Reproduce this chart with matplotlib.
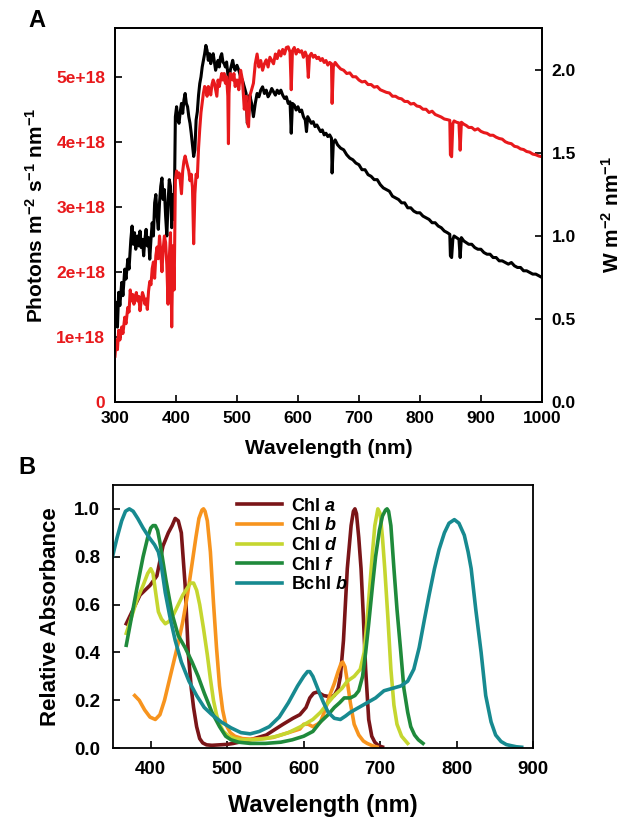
import numpy as np
import matplotlib.pyplot as plt

plt.rcParams['font.family'] = ['Liberation Sans', 'DejaVu Sans']
plt.rcParams['font.weight'] = 'bold'
plt.rcParams['mathtext.fontset'] = 'custom'
plt.rcParams['mathtext.rm'] = 'Liberation Sans:bold'
plt.rcParams['mathtext.it'] = 'Liberation Sans:bold:italic'
plt.rcParams['mathtext.bf'] = 'Liberation Sans:bold'

# Panel A: solar spectrum, energy (W m-2 nm-1), right axis, black
energy_pts = [
    (300, 0.50), (302, 0.60), (304, 0.45), (306, 0.66), (308, 0.58), (311, 0.72),
    (313, 0.64), (316, 0.80), (318, 0.74), (321, 0.86), (323, 0.80), (326, 0.98),
    (328, 1.06), (330, 0.95), (332, 1.02), (334, 0.92), (337, 1.00), (339, 0.94),
    (341, 1.03), (343, 0.93), (345, 0.98), (347, 0.88), (349, 0.98), (351, 1.04),
    (353, 0.94), (355, 0.99), (357, 0.86), (359, 0.98), (361, 1.08), (363, 1.00),
    (365, 1.20), (367, 1.25), (369, 1.12), (371, 1.04), (373, 1.20), (375, 1.30),
    (377, 1.35), (379, 1.22), (381, 1.28), (383, 1.12), (385, 1.00), (387, 1.20),
    (389, 1.34), (391, 1.30), (393, 1.05), (395, 1.25), (397, 1.10), (399, 1.72),
    (401, 1.78), (403, 1.70), (405, 1.68), (407, 1.75), (409, 1.80), (411, 1.74),
    (413, 1.82), (415, 1.86), (417, 1.80), (419, 1.78), (421, 1.72), (423, 1.68),
    (425, 1.62), (427, 1.55), (429, 1.48), (431, 1.52), (433, 1.70), (435, 1.75),
    (437, 1.85), (439, 1.92), (441, 1.96), (443, 2.02), (445, 2.06), (447, 2.10),
    (449, 2.15), (451, 2.12), (453, 2.06), (455, 2.10), (457, 2.04), (459, 2.08),
    (461, 2.10), (463, 2.05), (465, 2.00), (467, 2.03), (469, 2.06), (471, 2.02),
    (473, 2.08), (475, 2.10), (477, 2.05), (479, 2.04), (481, 2.02), (483, 2.05),
    (485, 1.98), (487, 1.92), (489, 2.00), (491, 2.03), (493, 2.06), (495, 2.02),
    (497, 2.00), (500, 2.03), (503, 2.00), (506, 1.96), (509, 1.94), (512, 1.90),
    (515, 1.86), (517, 1.68), (519, 1.72), (521, 1.85), (524, 1.80), (527, 1.72),
    (530, 1.80), (533, 1.86), (536, 1.84), (539, 1.88), (542, 1.90), (545, 1.86),
    (548, 1.88), (551, 1.84), (554, 1.86), (557, 1.89), (560, 1.87), (563, 1.85),
    (566, 1.88), (569, 1.86), (572, 1.88), (575, 1.85), (578, 1.83), (581, 1.84),
    (584, 1.80), (587, 1.81), (589, 1.62), (591, 1.80), (594, 1.79), (597, 1.76),
    (600, 1.78), (603, 1.75), (606, 1.76), (609, 1.72), (612, 1.70), (614, 1.63),
    (616, 1.72), (619, 1.70), (622, 1.68), (625, 1.69), (628, 1.66), (631, 1.67),
    (634, 1.65), (637, 1.63), (640, 1.64), (643, 1.61), (646, 1.62), (649, 1.60),
    (652, 1.61), (655, 1.59), (656, 1.38), (658, 1.56), (661, 1.58), (665, 1.55),
    (670, 1.53), (675, 1.52), (680, 1.49), (685, 1.47), (690, 1.46), (695, 1.44),
    (700, 1.43), (705, 1.40), (710, 1.40), (715, 1.37), (720, 1.36), (725, 1.34),
    (730, 1.34), (735, 1.31), (740, 1.29), (745, 1.28), (750, 1.27), (755, 1.24),
    (760, 1.23), (765, 1.22), (770, 1.20), (775, 1.20), (780, 1.17), (785, 1.17),
    (790, 1.15), (795, 1.14), (800, 1.14), (805, 1.12), (810, 1.11), (815, 1.10),
    (820, 1.08), (825, 1.08), (830, 1.06), (835, 1.05), (840, 1.03), (845, 1.02),
    (849, 1.01), (850, 0.88), (852, 0.87), (854, 0.98), (856, 1.00), (860, 0.99),
    (864, 0.98), (866, 0.87), (868, 0.99), (872, 0.97), (876, 0.96), (880, 0.95),
    (885, 0.95), (890, 0.93), (895, 0.92), (900, 0.92), (905, 0.90), (910, 0.89),
    (915, 0.89), (920, 0.87), (925, 0.87), (930, 0.85), (935, 0.85), (940, 0.84),
    (945, 0.83), (950, 0.84), (955, 0.82), (960, 0.81), (965, 0.81), (970, 0.79),
    (975, 0.79), (980, 0.78), (985, 0.77), (990, 0.77), (995, 0.76), (1000, 0.75),
]

# Panel A: photon flux (units of 1e18 photons m-2 s-1 nm-1), left axis, red
photon_pts = [
    (300, 0.70), (302, 0.95), (304, 0.80), (306, 1.10), (308, 0.95), (311, 1.15),
    (313, 1.05), (316, 1.30), (318, 1.20), (321, 1.45), (323, 1.38), (325, 1.72),
    (327, 1.55), (329, 1.65), (331, 1.50), (333, 1.60), (335, 1.68), (337, 1.55),
    (339, 1.62), (341, 1.40), (343, 1.55), (345, 1.68), (347, 1.62), (349, 1.50),
    (351, 1.58), (353, 1.42), (355, 1.70), (357, 1.85), (359, 1.80), (361, 2.05),
    (363, 2.15), (365, 1.90), (367, 2.25), (369, 2.38), (371, 2.20), (373, 2.55),
    (375, 2.30), (377, 2.00), (379, 2.35), (381, 2.55), (383, 2.45), (385, 2.10),
    (387, 1.50), (389, 2.20), (391, 2.60), (393, 1.15), (395, 2.40), (397, 1.72),
    (399, 3.40), (401, 3.55), (403, 3.45), (405, 3.52), (407, 3.40), (409, 3.20),
    (411, 3.55), (413, 3.70), (415, 3.78), (417, 3.70), (419, 3.62), (421, 3.55),
    (423, 3.40), (425, 3.50), (427, 3.30), (429, 2.43), (431, 3.20), (433, 3.50),
    (435, 3.45), (437, 3.90), (439, 4.20), (441, 4.45), (443, 4.60), (445, 4.75),
    (447, 4.85), (449, 4.82), (451, 4.70), (453, 4.85), (455, 4.80), (457, 4.72),
    (459, 4.88), (461, 4.95), (463, 4.90), (465, 4.80), (467, 4.70), (469, 4.95),
    (471, 4.85), (473, 4.95), (475, 5.05), (477, 4.95), (479, 5.05), (481, 4.90),
    (483, 5.00), (485, 4.70), (486, 3.97), (487, 4.75), (489, 5.05), (491, 5.00),
    (493, 4.95), (495, 5.05), (497, 4.85), (500, 4.95), (503, 4.80), (506, 5.10),
    (509, 4.95), (512, 4.50), (515, 4.70), (517, 4.30), (519, 4.23), (521, 4.70),
    (524, 4.80), (527, 4.90), (530, 5.20), (533, 5.35), (536, 5.15), (539, 5.25),
    (542, 5.10), (545, 5.20), (548, 5.26), (551, 5.15), (554, 5.30), (557, 5.25),
    (560, 5.20), (563, 5.35), (566, 5.28), (569, 5.40), (572, 5.32), (575, 5.42),
    (578, 5.35), (581, 5.45), (584, 5.46), (587, 5.38), (589, 4.80), (591, 5.40),
    (594, 5.45), (597, 5.35), (600, 5.42), (603, 5.38), (606, 5.40), (609, 5.30),
    (612, 5.38), (615, 5.30), (617, 4.99), (619, 5.32), (622, 5.36), (625, 5.30),
    (628, 5.33), (631, 5.28), (634, 5.30), (637, 5.25), (640, 5.28), (643, 5.22),
    (646, 5.25), (649, 5.18), (652, 5.22), (655, 5.20), (656, 4.59), (658, 5.15),
    (661, 5.22), (665, 5.17), (670, 5.12), (675, 5.10), (680, 5.05), (685, 5.06),
    (690, 5.00), (695, 5.00), (700, 4.95), (705, 4.92), (710, 4.93), (715, 4.88),
    (720, 4.88), (725, 4.84), (730, 4.85), (735, 4.80), (740, 4.78), (745, 4.76),
    (750, 4.75), (755, 4.70), (760, 4.70), (765, 4.67), (770, 4.66), (775, 4.62),
    (780, 4.62), (785, 4.58), (790, 4.59), (795, 4.55), (800, 4.54), (805, 4.50),
    (810, 4.50), (815, 4.45), (820, 4.47), (825, 4.42), (830, 4.40), (835, 4.38),
    (840, 4.35), (845, 4.34), (849, 4.33), (850, 3.80), (852, 3.77), (854, 4.28),
    (856, 4.32), (860, 4.30), (864, 4.29), (866, 3.87), (868, 4.30), (872, 4.27),
    (876, 4.25), (880, 4.22), (885, 4.22), (890, 4.18), (895, 4.20), (900, 4.16),
    (905, 4.14), (910, 4.13), (915, 4.10), (920, 4.10), (925, 4.07), (930, 4.05),
    (935, 4.04), (940, 4.00), (945, 3.98), (950, 3.97), (955, 3.93), (960, 3.92),
    (965, 3.89), (970, 3.88), (975, 3.85), (980, 3.84), (985, 3.81), (990, 3.80),
    (995, 3.78), (1000, 3.77),
]

photon_ticks = [0, 1e18, 2e18, 3e18, 4e18, 5e18]
photon_labels = ['0', '1e+18', '2e+18', '3e+18', '4e+18', '5e+18']
energy_ticks = [0.0, 0.5, 1.0, 1.5, 2.0]
wl_ticks_a = [300, 400, 500, 600, 700, 800, 900, 1000]

# Panel B: relative absorbance of pigments
chla_wl = [368, 377, 386, 399, 408, 416, 423, 428, 432, 436, 440, 445, 449, 453, 456, 460,
           464, 468, 473, 480, 490, 500, 508, 530, 551, 573, 586, 595, 603, 608, 613, 618,
           626, 634, 640, 645, 648, 652, 657, 662, 665, 667, 669, 672, 675, 678, 681, 685,
           689, 693, 698, 703]
chla_abs = [0.52, 0.58, 0.64, 0.68, 0.72, 0.845, 0.90, 0.93, 0.96, 0.95, 0.90, 0.68, 0.40, 0.25, 0.17, 0.09,
            0.04, 0.022, 0.014, 0.012, 0.014, 0.016, 0.02, 0.035, 0.055, 0.10, 0.125, 0.14, 0.17, 0.21, 0.23, 0.235,
            0.22, 0.215, 0.22, 0.25, 0.30, 0.45, 0.75, 0.93, 0.99, 1.00, 0.98, 0.88, 0.75, 0.55, 0.33, 0.12,
            0.05, 0.025, 0.01, 0.005]

chlb_wl = [379, 385, 392, 399, 406, 412, 418, 424, 430, 436, 442, 448, 454, 459, 463, 467,
           469, 471, 474, 478, 482, 486, 490, 494, 498, 504, 510, 520, 530, 545, 560, 575,
           585, 595, 600, 606, 612, 618, 622, 628, 634, 640, 645, 649, 651, 654, 657, 661,
           666, 672, 678, 683, 690, 696]
chlb_abs = [0.22, 0.20, 0.16, 0.13, 0.12, 0.14, 0.20, 0.28, 0.36, 0.44, 0.53, 0.64, 0.77, 0.88, 0.96, 0.995,
            1.00, 0.99, 0.95, 0.82, 0.61, 0.42, 0.26, 0.16, 0.10, 0.065, 0.05, 0.04, 0.038, 0.04, 0.045, 0.06,
            0.07, 0.08, 0.10, 0.10, 0.09, 0.10, 0.11, 0.16, 0.22, 0.27, 0.32, 0.355, 0.36, 0.34, 0.28, 0.19,
            0.10, 0.055, 0.03, 0.02, 0.01, 0.005]

chld_wl = [368, 375, 382, 390, 396, 400, 403, 406, 410, 414, 419, 424, 430, 436, 442, 448,
           452, 456, 460, 464, 469, 474, 478, 482, 486, 490, 495, 502, 510, 520, 535, 550,
           565, 580, 596, 612, 622, 632, 640, 650, 657, 666, 674, 679, 683, 687, 690, 693,
           697, 700, 703, 706, 710, 714, 718, 722, 728, 736]
chld_abs = [0.48, 0.55, 0.62, 0.68, 0.73, 0.75, 0.73, 0.66, 0.57, 0.54, 0.52, 0.53, 0.56, 0.60, 0.64, 0.67,
            0.69, 0.69, 0.66, 0.60, 0.50, 0.39, 0.29, 0.20, 0.14, 0.10, 0.07, 0.05, 0.04, 0.035, 0.035, 0.04,
            0.05, 0.065, 0.09, 0.12, 0.15, 0.19, 0.22, 0.25, 0.28, 0.30, 0.33, 0.40, 0.54, 0.70, 0.82, 0.93,
            1.00, 0.98, 0.88, 0.75, 0.55, 0.33, 0.18, 0.10, 0.05, 0.02]

chlf_wl = [368, 375, 382, 390, 396, 400, 403, 406, 409, 412, 416, 420, 428, 436, 445, 454,
           462, 470, 480, 490, 498, 505, 515, 530, 550, 570, 585, 600, 612, 622, 632, 640,
           647, 653, 661, 667, 672, 677, 681, 685, 690, 694, 699, 703, 707, 709, 711, 714,
           718, 722, 727, 731, 736, 740, 745, 750, 756]
chlf_abs = [0.43, 0.55, 0.67, 0.80, 0.88, 0.92, 0.93, 0.93, 0.91, 0.86, 0.78, 0.70, 0.56, 0.47, 0.42, 0.36,
            0.30, 0.23, 0.15, 0.09, 0.05, 0.035, 0.025, 0.02, 0.02, 0.025, 0.035, 0.05, 0.07, 0.11, 0.14, 0.17,
            0.19, 0.21, 0.21, 0.22, 0.24, 0.30, 0.40, 0.52, 0.68, 0.80, 0.91, 0.97, 0.995, 1.00, 0.99, 0.93,
            0.75, 0.58, 0.40, 0.25, 0.15, 0.09, 0.055, 0.035, 0.02]

bchlb_wl = [350, 356, 362, 367, 372, 377, 383, 390, 398, 405, 410, 414, 419, 425, 432, 440,
            450, 460, 470, 480, 492, 505, 518, 530, 542, 555, 568, 580, 592, 600, 605, 608,
            612, 617, 622, 626, 632, 640, 648, 655, 661, 672, 683, 694, 705, 716, 727, 736,
            744, 751, 758, 764, 771, 777, 784, 790, 797, 803, 810, 815, 819, 825, 832, 838,
            845, 851, 858, 865, 872, 878, 885]
bchlb_abs = [0.80, 0.88, 0.95, 0.99, 1.00, 0.99, 0.96, 0.92, 0.88, 0.85, 0.82, 0.76, 0.65, 0.55, 0.45, 0.36,
             0.28, 0.22, 0.17, 0.14, 0.11, 0.085, 0.065, 0.06, 0.07, 0.09, 0.13, 0.19, 0.26, 0.30, 0.32, 0.32,
             0.30, 0.26, 0.22, 0.19, 0.15, 0.125, 0.12, 0.135, 0.15, 0.17, 0.19, 0.21, 0.24, 0.25, 0.26, 0.28,
             0.33, 0.42, 0.54, 0.64, 0.75, 0.83, 0.90, 0.94, 0.955, 0.94, 0.89, 0.82, 0.75, 0.58, 0.40, 0.22,
             0.11, 0.055, 0.028, 0.015, 0.01, 0.006, 0.004]

pigment_labels = ['Chl $\\mathit{a}$', 'Chl $\\mathit{b}$', 'Chl $\\mathit{d}$',
                  'Chl $\\mathit{f}$', 'Bchl $\\mathit{b}$']
pigment_colors = ['#7a1518', '#f7941e', '#c5d630', '#1f8a3b', '#178a90']
wl_ticks_b = [400, 500, 600, 700, 800, 900]
abs_ticks = [0.0, 0.2, 0.4, 0.6, 0.8, 1.0]

fig = plt.figure(figsize=(6.25, 8.24), dpi=100)

# ---- panel A ----
ax = fig.add_axes([0.184, 0.5125, 0.683, 0.4535])
ax2 = ax.twinx()

e = np.array(energy_pts)
p = np.array(photon_pts)
ax2.plot(e[:, 0], e[:, 1], color='black', lw=2.2)
ax.plot(p[:, 0], p[:, 1] * 1e18, color='#e8191c', lw=2.2)
ax.set_zorder(ax2.get_zorder() + 1)
ax.patch.set_visible(False)

ax.set_xlim(300, 1000)
ax.set_ylim(0, 5.75e18)
ax2.set_ylim(0, 2.255)
ax.set_xticks(wl_ticks_a)
ax.set_xticklabels([str(t) for t in wl_ticks_a], fontsize=12.5, fontweight='bold')
ax.set_yticks(photon_ticks)
ax.set_yticklabels(photon_labels, fontsize=12.5, fontweight='bold', color='#e8191c')
ax2.set_yticks(energy_ticks)
ax2.set_yticklabels(['%.1f' % t for t in energy_ticks], fontsize=12.5, fontweight='bold')
for a in (ax, ax2):
    a.tick_params(direction='in', length=5, width=1.2, pad=7)
    for s in a.spines.values():
        s.set_linewidth(1.3)
ax.set_xlabel('Wavelength (nm)', fontsize=15, fontweight='bold', labelpad=9)
ax.set_ylabel('Photons m$^{-2}$ s$^{-1}$ nm$^{-1}$', fontsize=15, fontweight='bold', labelpad=7)
ax2.set_ylabel('W m$^{-2}$ nm$^{-1}$', fontsize=15, fontweight='bold', labelpad=18)
fig.text(0.045, 0.975, 'A', fontsize=17, fontweight='bold', va='center')

# ---- panel B ----
bx = fig.add_axes([0.180, 0.092, 0.673, 0.3195])
series = [(chla_wl, chla_abs), (chlb_wl, chlb_abs), (chld_wl, chld_abs),
          (chlf_wl, chlf_abs), (bchlb_wl, bchlb_abs)]
for (wl, ab), lab, col in zip(series, pigment_labels, pigment_colors):
    bx.plot(wl, ab, color=col, lw=2.6, label=lab)
bx.set_xlim(350, 900)
bx.set_ylim(0, 1.1)
bx.set_xticks(wl_ticks_b)
bx.set_xticklabels([str(t) for t in wl_ticks_b], fontsize=13.5, fontweight='bold')
bx.set_yticks(abs_ticks)
bx.set_yticklabels(['%.1f' % t for t in abs_ticks], fontsize=13.5, fontweight='bold')
bx.tick_params(direction='in', length=5, width=1.2, pad=9)
for s in bx.spines.values():
    s.set_linewidth(1.3)
bx.set_xlabel('Wavelength (nm)', fontsize=17, fontweight='bold', labelpad=12)
bx.set_ylabel('Relative Absorbance', fontsize=16, fontweight='bold', labelpad=9)
leg = bx.legend(loc='upper left', bbox_to_anchor=(0.265, 1.0), frameon=False,
                prop={'size': 13, 'weight': 'bold'}, handlelength=2.5,
                handletextpad=0.5, labelspacing=0.15, borderaxespad=0.3)
fig.text(0.03, 0.433, 'B', fontsize=17, fontweight='bold', va='center')

fig.savefig('out.png', dpi=100)
